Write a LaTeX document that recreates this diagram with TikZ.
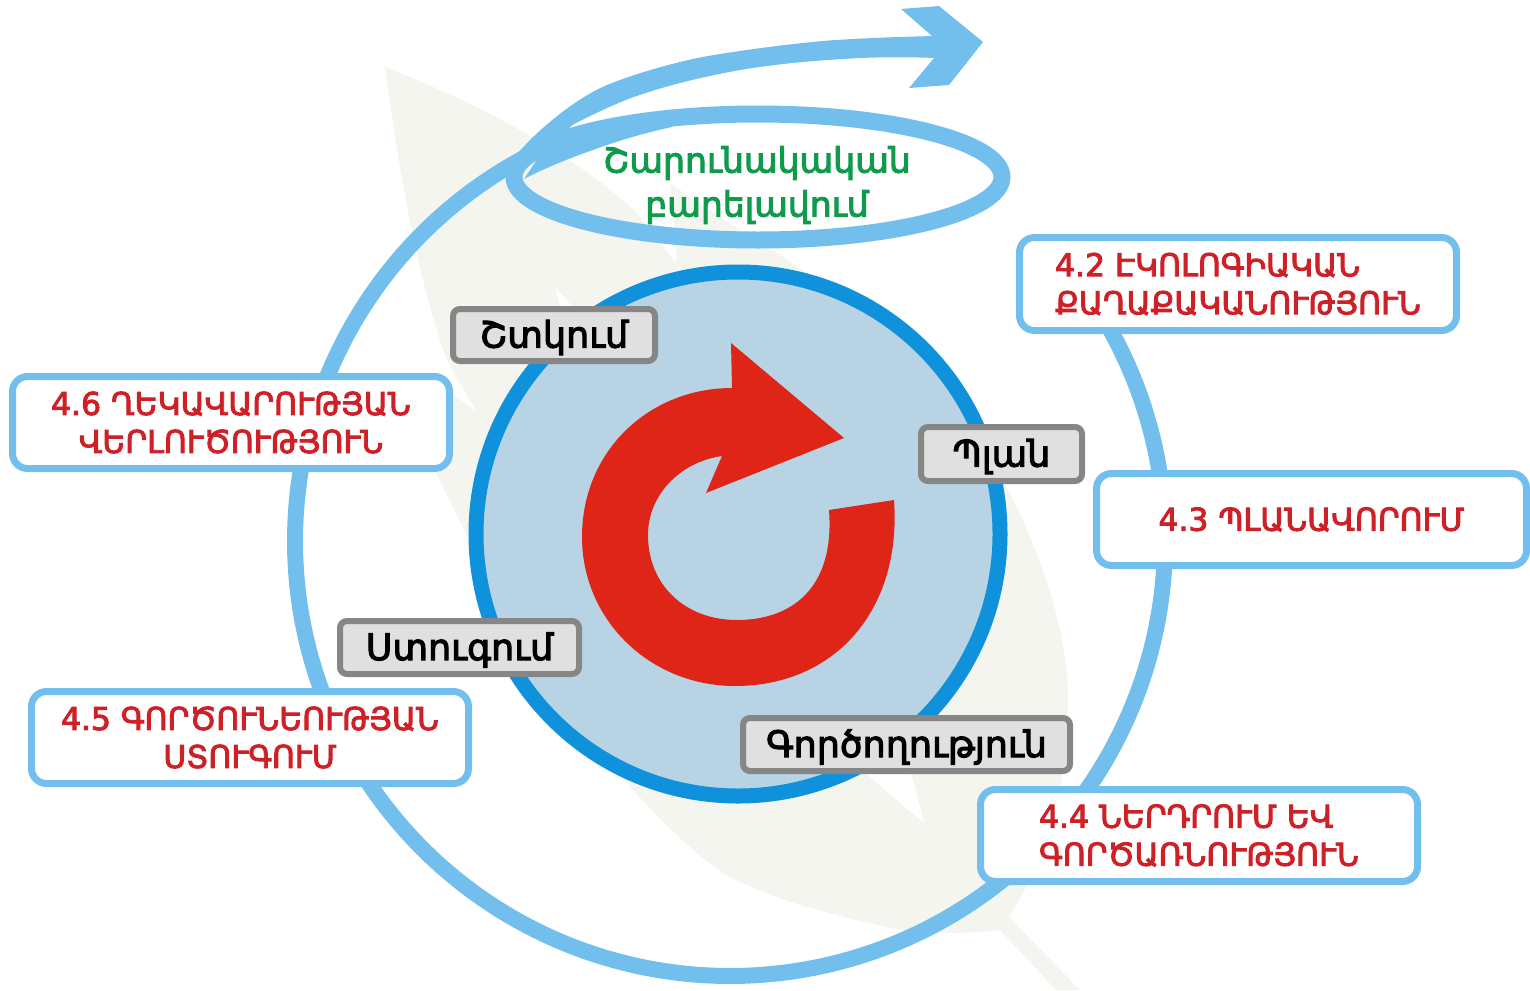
\documentclass[tikz,border=0pt]{standalone}
\usepackage{fontspec}
\newfontfamily\armfont[FakeBold=3]{DejaVu Sans}
\newfontfamily\armblack[FakeBold=3]{DejaVu Sans}
\definecolor{ringblue}{HTML}{72BFEE}
\definecolor{deepblue}{HTML}{0F91DC}
\definecolor{discblue}{HTML}{B8D4E4}
\definecolor{leafpale}{HTML}{F5F5F0}
\definecolor{arrowred}{HTML}{DE2518}
\definecolor{labelred}{HTML}{CE2027}
\definecolor{labelgreen}{HTML}{109A4C}
\tikzset{
  sectionbox/.style={draw=ringblue,fill=white,line width=7pt,rounded corners=15pt,inner sep=0pt,
    text=labelred,align=center,font=\armfont\fontsize{31.4}{38}\selectfont},
  pdcabox/.style={draw=gray!95,fill=black!12,line width=6pt,rounded corners=7pt,inner sep=0pt},
  pdcatext/.style={inner sep=0pt,text=black,yshift=-2.5pt,font=\armblack\fontsize{36.5}{38}\selectfont},
}
\begin{document}
\begin{tikzpicture}[x=1pt,y=-1pt]
\useasboundingbox (0,0) rectangle (1530,990);
% leaf
\fill[leafpale] (385,67) .. controls (470,100) and (570,150) .. (637,213) -- (675,262) -- (677,258) -- (670,183)
  .. controls (700,205) and (740,230) .. (777,253) .. controls (880,320) and (970,400) .. (1008,490)
  .. controls (1045,560) and (1068,640) .. (1068,697) .. controls (1068,790) and (1045,860) .. (1009,917)
  -- (1080,990) -- (1056,990) -- (1000,930) .. controls (960,935) and (920,933) .. (886,927)
  .. controls (820,912) and (770,898) .. (730,877) .. controls (680,852) and (520,680) .. (469,540)
  -- (436,473) -- (440,385) -- (477,412) -- (450,367) .. controls (430,320) and (405,220) .. (385,67) -- cycle;
\fill[white] (555,287) -- (572,306) -- (560,306) -- cycle;
\fill[white] (850,760) -- (905,750) -- (924,823) -- cycle;
% big ring
\draw[ringblue,line width=16pt] plot[domain=242:-33,samples=160,smooth] ({730+435*cos(\x)},{541+435*sin(\x)});
% improvement loop and arrow
\draw[ringblue,line width=17pt] (758,177) ellipse [x radius=244pt,y radius=63pt];
\fill[ringblue] (524,179) .. controls (545,168) and (570,158) .. (593,150) .. controls (620,140) and (645,133) .. (672,127) -- (672,122) -- (600,130) -- (540,155) -- cycle;
\fill[ringblue] (500,176) -- (518,153) .. controls (535,133) and (575,97) .. (612,83)
  .. controls (640,72) and (680,61) .. (708,56) .. controls (750,49) and (790,44) .. (823,41)
  .. controls (860,38) and (900,37) .. (932,36) -- (901,9) -- (939,6) -- (983,42) -- (949,85) -- (909,88) -- (934,58)
  .. controls (910,57) and (885,57) .. (861,58) .. controls (820,60) and (785,63) .. (746,69)
  .. controls (700,77) and (665,86) .. (631,98) .. controls (610,106) and (590,116) .. (574,124)
  -- (559,137) -- (530,165) -- cycle;
\node[text=labelgreen,align=center,font=\armblack\fontsize{34.6}{44}\selectfont,inner sep=0pt] (improve) at (757,185)
  {Շարունակական\\բարելավում};
% central disc
\draw[deepblue,fill=discblue,line width=15pt] (738,534) circle [radius=262pt];
% red arrow
\fill[arrowred] (894,500) .. controls (902,610) and (835,686) .. (735,686)
  .. controls (650,686) and (582,620) .. (582,537) .. controls (582,450) and (650,388) .. (732,388)
  -- (731,343) -- (844,438) -- (706,493) -- (722,456) .. controls (680,462) and (648,495) .. (648,535)
  .. controls (648,585) and (685,620) .. (737,620) .. controls (790,620) and (835,590) .. (829,510) -- cycle;
% grey labels
\node[pdcabox,minimum width=202pt,minimum height=52pt] (fix) at (554,335) {};
\node[pdcatext] (fixtext) at (fix.center) {Շտկում};
\node[pdcabox,minimum width=161pt,minimum height=54pt] (plan) at (1001.5,454) {};
\node[pdcatext] (plantext) at (plan.center) {Պլան};
\node[pdcabox,minimum width=327pt,minimum height=53pt] (act) at (906.5,744.5) {};
\node[pdcatext] (acttext) at (act.center) {Գործողություն};
\node[pdcabox,minimum width=239pt,minimum height=53pt] (check) at (459.5,647.5) {};
\node[pdcatext] (checktext) at (check.center) {Ստուգում};
% section boxes
\node[sectionbox,minimum width=437pt,minimum height=93pt,align=left] (s2) at (1238,284) {4.2 ԷԿՈԼՈԳԻԱԿԱՆ\\ՔԱՂԱՔԱԿԱՆՈՒԹՅՈՒՆ};
\node[sectionbox,minimum width=430pt,minimum height=92pt] (s3) at (1311.5,519.5) {4.3 ՊԼԱՆԱՎՈՐՈՒՄ};
\node[sectionbox,minimum width=437pt,minimum height=92pt,align=left] (s4) at (1199,835.5) {4.4 ՆԵՐԴՐՈՒՄ ԵՎ\\ԳՈՐԾԱՌՆՈՒԹՅՈՒՆ};
\node[sectionbox,minimum width=437pt,minimum height=92pt] (s5) at (250,737.5) {4.5 ԳՈՐԾՈՒՆԵՈՒԹՅԱՆ\\ՍՏՈՒԳՈՒՄ};
\node[sectionbox,minimum width=437pt,minimum height=92pt] (s6) at (231,422.5) {4.6 ՂԵԿԱՎԱՐՈՒԹՅԱՆ\\ՎԵՐԼՈՒԾՈՒԹՅՈՒՆ};
\end{tikzpicture}
\end{document}
